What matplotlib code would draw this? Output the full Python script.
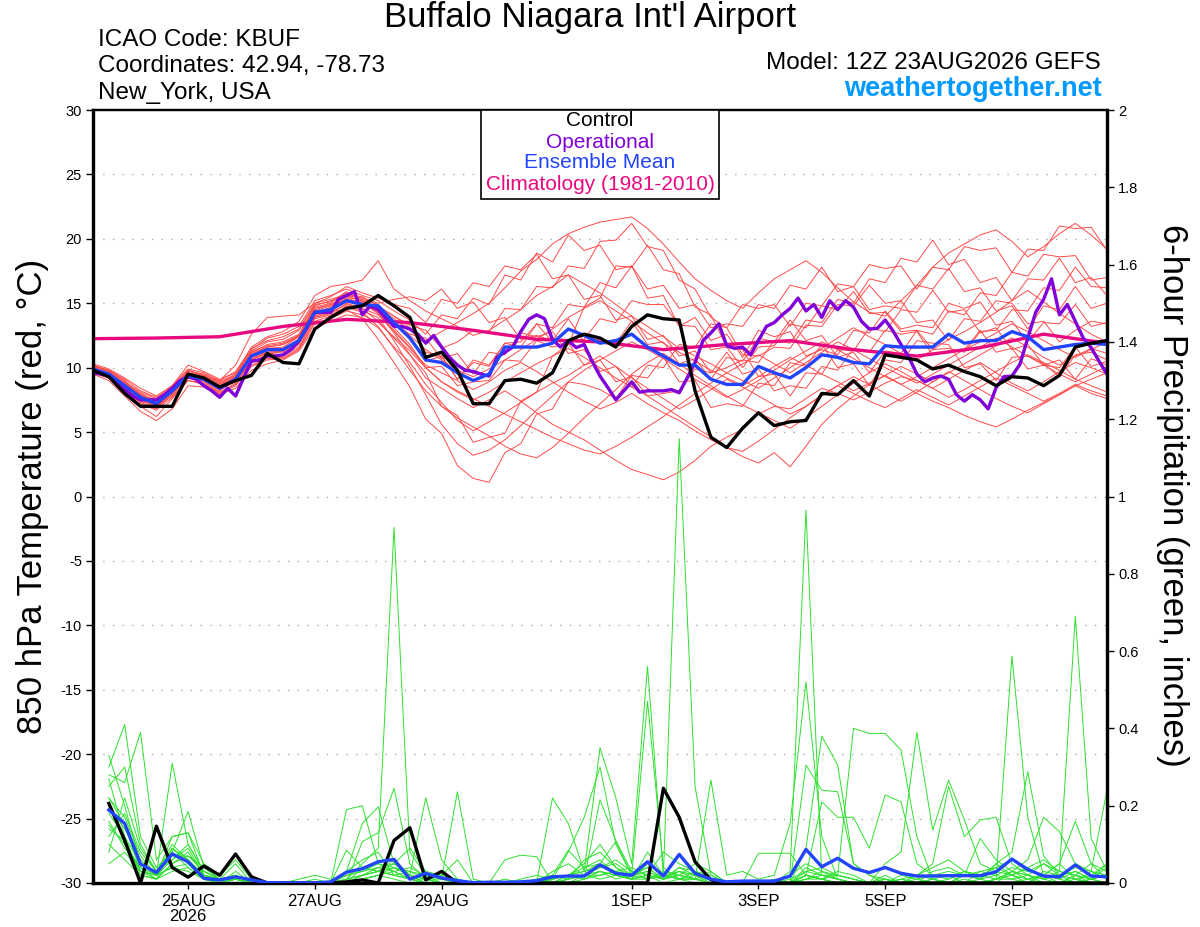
import matplotlib
matplotlib.use('Agg')
import matplotlib.pyplot as plt
from matplotlib.patches import Rectangle
import numpy as np

plt.rcParams['font.family'] = ['Liberation Sans', 'DejaVu Sans']
plt.rcParams['axes.unicode_minus'] = False

# ---------------- data ----------------
# x axis: hours after 12Z 23AUG2026 (6-hourly, operational 3-hourly)
tick_hours = [36, 84, 132, 204, 252, 300, 348]
tick_labels = ['25AUG\n2026', '27AUG', '29AUG', '1SEP', '3SEP', '5SEP', '7SEP']
temp_ticks = [30, 25, 20, 15, 10, 5, 0, -5, -10, -15, -20, -25, -30]
precip_ticks = [2, 1.8, 1.6, 1.4, 1.2, 1, 0.8, 0.6, 0.4, 0.2, 0]
precip_tick_labels = ['2', '1.8', '1.6', '1.4', '1.2', '1', '0.8', '0.6', '0.4', '0.2', '0']

control_t = [9.8, 9.3, 8.0, 7.0, 7.0, 7.0, 9.5, 9.2, 8.5, 9.0,
             9.4, 11.1, 10.4, 10.3, 13.0, 13.9, 14.6, 14.8, 15.6, 14.8,
             13.9, 10.8, 11.2, 9.8, 7.2, 7.2, 9.0, 9.1, 8.8, 9.6,
             12.1, 12.6, 12.3, 11.6, 13.2, 14.1, 13.8, 13.7, 8.2, 4.6,
             3.8, 5.3, 6.5, 5.5, 5.8, 5.9, 8.0, 7.9, 9.0, 7.8,
             11.0, 10.8, 10.6, 9.9, 10.2, 9.7, 9.3, 8.6, 9.3, 9.2,
             8.6, 9.4, 11.6, 11.9, 12.1]

mean_t = [9.9, 9.5, 8.6, 7.7, 7.2, 8.2, 9.4, 9.1, 8.4, 9.1,
          10.9, 11.4, 11.4, 12.1, 14.3, 14.5, 15.2, 14.9, 14.8, 13.5,
          12.3, 10.6, 10.4, 9.6, 9.0, 9.5, 11.6, 11.6, 11.6, 11.9,
          13.0, 12.5, 11.9, 12.1, 12.6, 11.6, 10.9, 10.2, 10.2, 9.1,
          8.7, 8.7, 10.1, 9.6, 9.2, 10.0, 11.0, 10.8, 10.4, 10.3,
          11.7, 11.6, 11.6, 11.6, 12.6, 11.9, 12.1, 12.1, 12.8, 12.4,
          11.4, 11.6, 11.8, 11.9, 11.8]

oper_t = [9.6, 9.5, 9.35, 8.8, 8.3, 7.8, 7.5, 7.5, 7.5, 7.9,
          8.4, 9.0, 9.3, 9.1, 8.6, 8.2, 7.7, 8.4, 7.8, 9.2,
          10.5, 10.6, 10.9, 10.9, 11.0, 11.4, 12.1, 13.1, 14.3, 14.3,
          14.3, 15.3, 15.6, 15.9, 14.1, 14.8, 14.5, 13.8, 13.2, 13.2,
          13.0, 12.6, 11.9, 12.5, 11.6, 10.8, 10.2, 9.8, 9.7, 9.5,
          9.35, 10.8, 11.2, 11.6, 12.8, 13.75, 14.1, 13.8, 12.2, 11.6,
          12.1, 11.55, 11.8, 10.5, 9.35, 8.45, 7.5, 8.2, 8.9, 8.1,
          8.2, 8.2, 8.2, 8.3, 8.05, 9.2, 10.4, 12.1, 12.7, 13.4,
          11.7, 11.5, 11.6, 11.0, 12.1, 13.2, 13.5, 14.1, 14.6, 15.4,
          14.4, 14.9, 13.9, 15.2, 14.5, 15.2, 14.7, 13.6, 13.0, 13.05,
          13.7, 12.85, 11.8, 10.8, 9.5, 8.9, 9.2, 9.35, 9.1, 7.9,
          7.4, 7.9, 7.5, 6.8, 8.45, 9.3, 9.35, 10.25, 12.3, 14.3,
          15.3, 16.9, 14.1, 14.9, 13.6, 12.3, 11.55, 10.5, 9.5]

# climatology, daily values from 12Z 23AUG
clim_t = [12.25, 12.3, 12.4, 13.2, 13.75, 13.5, 12.9, 12.2, 12.0,
          11.4, 11.8, 12.1, 11.4, 10.9, 11.55, 12.6, 11.9]

t01 = [10.2, 9.8, 9.0, 7.8, 6.9, 8.0, 9.8, 9.4, 8.7, 9.3, 11.2, 11.8, 12.0, 12.6, 14.8, 15.2, 15.6, 15.1, 14.6, 13.8,
       12.9, 12.1, 12.8, 13.5, 14.2, 15.0, 16.2, 17.5, 18.4, 19.6, 20.4, 20.9, 21.3, 21.5, 21.7, 20.8, 19.6, 18.2, 16.9, 16.0,
       15.2, 14.6, 15.8, 16.9, 17.6, 18.3, 17.4, 16.2, 15.1, 14.3, 14.0, 15.2, 16.4, 17.8, 18.9, 19.6, 20.3, 20.7, 19.8, 18.6,
       19.4, 20.4, 21.2, 20.3, 19.2]
t02 = [10.0, 9.6, 8.3, 7.0, 6.2, 7.6, 9.0, 8.8, 8.0, 8.8, 10.4, 11.0, 11.3, 12.0, 14.0, 14.4, 14.5, 13.8, 12.2, 10.4,
       8.5, 6.0, 4.9, 2.4, 1.4, 1.1, 3.4, 4.1, 6.4, 6.8, 8.9, 8.7, 8.3, 7.6, 9.4, 9.2, 10.8, 8.9, 9.0, 6.9,
       7.2, 7.0, 8.8, 8.6, 10.4, 10.1, 11.8, 10.0, 10.3, 8.6, 10.6, 10.4, 12.1, 11.9, 11.8, 10.0, 10.3, 9.0, 10.8, 10.9,
       10.3, 9.3, 11.0, 11.2, 10.6]
t03 = [9.8, 9.4, 8.7, 7.5, 7.0, 7.8, 9.2, 9.0, 8.2, 9.0, 10.6, 11.1, 11.0, 11.8, 13.9, 14.2, 15.0, 14.6, 13.6, 12.3,
       11.0, 9.2, 8.4, 7.6, 6.9, 7.5, 8.2, 7.4, 6.5, 5.6, 5.0, 4.4, 3.6, 2.8, 2.1, 1.7, 1.3, 1.9, 2.8, 3.9,
       4.6, 5.2, 6.4, 7.0, 6.8, 7.6, 8.4, 8.0, 7.5, 8.1, 8.8, 9.3, 9.0, 8.4, 9.1, 9.8, 10.4, 9.6, 8.8, 8.2,
       8.9, 9.7, 10.4, 10.0, 9.5]
t04 = [9.9, 9.5, 8.8, 8.0, 7.4, 8.3, 9.6, 9.2, 8.6, 9.2, 11.0, 11.6, 11.8, 12.4, 14.5, 14.9, 15.3, 15.0, 14.3, 12.8,
       11.5, 10.2, 9.6, 9.0, 8.3, 8.9, 9.8, 10.4, 9.7, 8.9, 8.1, 7.4, 6.8, 7.3, 8.0, 7.2, 6.5, 5.9, 5.1, 4.4,
       3.8, 3.1, 2.6, 3.4, 2.3, 3.9, 5.6, 6.8, 7.8, 8.7, 9.4, 10.1, 9.5, 8.9, 9.6, 10.3, 11.0, 11.7, 12.3, 11.6,
       10.8, 10.2, 10.9, 11.5, 11.1]
t05 = [9.7, 9.3, 8.5, 7.6, 7.1, 8.4, 9.7, 9.5, 8.9, 9.5, 11.4, 12.3, 12.6, 13.2, 15.2, 15.6, 16.1, 15.6, 15.2, 14.4,
       13.7, 12.6, 14.1, 13.8, 15.4, 14.9, 17.2, 16.8, 18.9, 18.2, 20.3, 19.1, 19.5, 17.6, 17.9, 15.4, 15.6, 13.2, 13.9, 12.1,
       12.6, 10.8, 12.9, 12.4, 12.8, 10.9, 11.4, 11.0, 12.9, 12.7, 14.4, 13.0, 13.3, 13.1, 15.0, 14.6, 15.1, 13.3, 13.6, 12.0,
       13.5, 13.4, 14.9, 13.2, 13.5]
t06 = [10.3, 9.9, 9.2, 8.4, 7.8, 8.6, 10.2, 9.7, 9.1, 9.6, 11.6, 12.4, 12.8, 13.6, 15.6, 16.3, 16.5, 16.8, 18.3, 16.1,
       15.2, 14.4, 13.8, 13.2, 12.5, 12.9, 13.7, 14.5, 15.6, 16.3, 17.2, 16.5, 15.8, 14.9, 14.0, 13.2, 12.4, 11.5, 10.9, 10.3,
       9.6, 9.0, 8.4, 9.2, 10.0, 10.8, 11.5, 12.3, 13.1, 12.4, 11.8, 11.1, 10.6, 11.4, 12.2, 12.8, 13.5, 14.3, 15.2, 16.0,
       15.1, 14.2, 13.4, 12.6, 12.0]
t07 = [9.6, 9.2, 8.4, 7.3, 6.8, 7.9, 9.5, 9.3, 9.0, 10.2, 12.6, 13.9, 14.0, 14.1, 15.0, 15.3, 15.7, 15.5, 14.8, 14.0,
       13.1, 11.2, 10.9, 9.1, 10.6, 10.2, 11.9, 12.0, 13.4, 12.0, 12.1, 12.2, 13.8, 13.5, 15.2, 14.9, 14.9, 13.3, 13.2, 11.4,
       11.6, 10.0, 11.6, 11.7, 13.4, 13.1, 14.8, 14.5, 15.9, 14.2, 14.3, 12.8, 12.9, 11.4, 11.5, 11.2, 12.8, 12.9, 14.5, 14.4,
       16.2, 16.0, 17.8, 16.3, 16.2]
t08 = [9.5, 9.0, 7.8, 6.6, 5.9, 6.8, 8.6, 8.5, 7.9, 8.4, 9.8, 10.3, 10.6, 11.3, 13.1, 13.6, 14.1, 13.9, 13.1, 11.6,
       10.4, 8.7, 7.3, 5.9, 5.1, 5.8, 6.5, 7.3, 8.1, 8.8, 9.4, 10.2, 10.9, 10.1, 9.2, 8.4, 7.6, 6.8, 7.5, 8.3,
       9.1, 8.5, 7.8, 7.1, 6.4, 7.0, 7.8, 8.6, 9.3, 8.7, 8.0, 7.4, 8.1, 8.9, 9.7, 9.0, 8.3, 7.6, 7.0, 6.5,
       7.2, 7.9, 8.6, 8.0, 7.6]
t09 = [10.1, 9.7, 8.9, 7.9, 7.3, 8.1, 9.3, 9.0, 8.3, 9.0, 10.7, 11.2, 11.3, 12.0, 14.2, 14.6, 15.4, 15.0, 14.2, 12.7,
       11.0, 9.6, 7.0, 6.3, 4.2, 4.6, 4.9, 7.4, 8.1, 10.9, 11.8, 14.7, 15.4, 17.9, 17.8, 19.5, 17.6, 17.3, 14.7, 14.1,
       11.6, 11.4, 9.3, 9.5, 7.8, 9.6, 9.5, 11.4, 11.3, 13.1, 12.8, 14.5, 14.3, 16.0, 14.3, 14.5, 12.7, 13.1, 11.4, 11.8,
       10.2, 10.6, 9.1, 10.7, 10.2]
t10 = [9.8, 9.5, 8.7, 7.7, 7.3, 8.3, 9.5, 9.2, 8.5, 9.2, 11.0, 11.5, 11.6, 12.4, 14.4, 14.8, 15.6, 15.4, 15.0, 15.3,
       15.5, 15.2, 16.1, 14.6, 15.1, 13.5, 13.9, 12.2, 12.5, 12.1, 13.8, 12.0, 12.2, 11.9, 13.6, 11.8, 12.0, 10.3, 10.7, 9.1,
       10.8, 10.5, 12.3, 12.0, 13.7, 12.1, 12.5, 10.8, 11.2, 9.6, 11.3, 11.1, 12.9, 12.6, 14.4, 14.1, 15.8, 15.6, 17.4, 17.1,
       18.8, 18.6, 18.7, 16.8, 17.0]
t11 = [9.9, 9.4, 8.6, 7.6, 7.1, 8.0, 9.2, 9.0, 8.3, 8.9, 10.5, 10.9, 11.0, 11.6, 13.8, 14.1, 14.7, 14.3, 13.2, 11.5,
       9.8, 8.2, 7.0, 6.1, 5.4, 4.7, 3.9, 3.3, 3.0, 3.8, 4.9, 6.1, 7.2, 8.3, 9.5, 10.4, 11.1, 10.3, 9.4, 8.6,
       7.8, 7.1, 6.5, 5.9, 5.3, 6.1, 7.0, 7.9, 8.8, 9.6, 10.3, 9.7, 9.0, 8.4, 7.7, 8.3, 9.0, 9.7, 10.4, 11.0,
       10.4, 9.8, 9.1, 8.6, 8.1]
t12 = [10.0, 9.6, 8.8, 7.9, 7.5, 8.5, 9.8, 9.4, 8.8, 9.4, 11.2, 11.7, 11.9, 12.5, 14.7, 15.0, 15.8, 15.3, 14.9, 13.6,
       12.5, 11.4, 10.6, 9.8, 9.3, 9.9, 10.6, 11.4, 12.2, 13.0, 13.9, 14.6, 15.2, 14.4, 13.6, 12.7, 11.9, 11.2, 10.5, 9.8,
       9.2, 8.6, 9.3, 10.1, 10.8, 10.2, 9.5, 8.9, 8.2, 8.8, 9.4, 8.7, 8.0, 7.4, 6.9, 6.3, 5.8, 5.4, 6.0, 6.7,
       7.3, 7.9, 8.6, 9.1, 9.6]
t13 = [9.7, 9.3, 8.6, 7.7, 7.2, 8.1, 9.3, 9.0, 8.4, 9.1, 10.8, 11.3, 11.4, 12.1, 14.1, 14.5, 15.1, 14.8, 14.4, 13.4,
       12.6, 12.3, 10.7, 11.1, 9.5, 11.2, 11.0, 12.7, 12.4, 12.8, 11.1, 11.4, 9.7, 10.1, 8.5, 10.2, 10.0, 11.8, 11.6, 13.4,
       13.1, 14.9, 14.6, 14.9, 13.2, 15.0, 14.8, 16.5, 16.3, 18.0, 17.7, 17.9, 16.1, 17.8, 17.6, 19.4, 19.1, 19.3, 17.4, 19.2,
       19.1, 21.0, 20.8, 20.9, 19.1]
t14 = [10.2, 9.7, 8.9, 8.1, 7.6, 8.4, 9.4, 8.9, 8.1, 8.7, 10.2, 10.7, 10.8, 11.5, 13.6, 14.0, 14.8, 14.4, 13.9, 12.1,
       10.1, 7.9, 5.6, 4.1, 3.2, 3.6, 4.4, 5.5, 6.7, 7.8, 8.9, 9.8, 10.6, 11.3, 12.0, 11.4, 10.7, 9.9, 9.1, 8.4,
       7.7, 8.3, 9.0, 9.8, 10.6, 11.3, 12.0, 11.4, 10.7, 10.0, 9.3, 8.7, 9.3, 10.0, 10.7, 11.4, 12.0, 12.7, 13.4, 12.8,
       12.1, 11.4, 10.8, 11.4, 12.0]
t15 = [9.8, 9.4, 8.5, 7.4, 6.9, 8.2, 9.6, 9.4, 8.8, 9.4, 11.3, 12.0, 12.2, 12.9, 14.9, 15.1, 15.9, 15.2, 14.6, 14.0,
       13.3, 12.9, 11.5, 12.0, 12.9, 12.8, 14.6, 14.5, 16.3, 16.2, 17.9, 17.7, 19.8, 19.9, 21.2, 19.4, 19.1, 16.8, 16.1, 13.9,
       13.1, 11.0, 10.9, 11.6, 11.5, 13.3, 13.2, 14.9, 14.8, 16.4, 15.0, 15.2, 13.5, 13.7, 12.1, 13.8, 13.6, 15.2, 15.0, 13.4,
       13.6, 12.0, 12.9, 13.6, 13.4]
t16 = [9.6, 9.2, 8.3, 7.2, 6.7, 7.7, 9.0, 8.7, 8.0, 8.6, 10.1, 10.6, 10.7, 11.4, 13.4, 13.8, 14.4, 14.1, 13.5, 12.4,
       11.3, 10.0, 8.9, 8.1, 7.5, 8.1, 8.9, 9.6, 10.3, 10.9, 11.5, 10.8, 10.0, 9.2, 8.5, 7.8, 7.0, 6.2, 5.4, 4.6,
       3.8, 3.5, 4.3, 5.2, 6.1, 7.0, 7.9, 8.6, 8.0, 7.4, 6.9, 7.6, 8.3, 7.7, 7.1, 7.8, 8.5, 9.2, 8.6, 8.0,
       7.4, 8.0, 8.7, 8.2, 7.8]
t17 = [10.1, 9.8, 9.1, 8.2, 7.7, 8.6, 9.9, 9.6, 9.0, 9.7, 11.5, 12.1, 12.4, 13.0, 15.0, 15.5, 16.3, 15.8, 15.4, 14.9,
       14.6, 13.5, 15.3, 15.0, 16.6, 16.3, 17.9, 17.6, 18.8, 16.9, 17.2, 15.3, 15.6, 13.7, 14.0, 12.2, 12.5, 10.9, 11.3, 9.6,
       10.0, 10.6, 10.4, 12.1, 11.9, 13.7, 13.5, 15.3, 15.0, 16.9, 16.6, 18.5, 18.2, 19.9, 18.0, 18.4, 16.6, 17.0, 15.2, 16.9,
       16.8, 18.5, 16.6, 17.0, 15.6]
t18 = [9.9, 9.5, 8.6, 7.6, 7.0, 8.1, 9.4, 9.1, 8.5, 9.1, 10.9, 11.4, 11.5, 12.2, 14.2, 14.7, 15.3, 15.0, 14.6, 13.1,
       11.8, 10.0, 10.1, 8.6, 8.9, 9.0, 10.6, 10.5, 12.1, 11.6, 11.9, 10.2, 10.6, 8.9, 9.3, 7.8, 8.0, 8.2, 9.9, 9.6,
       11.2, 9.5, 9.9, 8.2, 8.6, 8.4, 10.1, 9.8, 11.5, 11.2, 12.9, 12.6, 12.8, 11.0, 11.3, 11.4, 12.9, 11.2, 11.5, 9.9,
       10.2, 10.0, 11.6, 10.1, 10.5]
t19 = [10.0, 9.6, 8.7, 7.8, 7.2, 8.0, 9.3, 9.1, 8.4, 9.0, 10.6, 11.2, 11.2, 11.9, 13.9, 14.3, 14.9, 14.6, 14.1, 12.9,
       11.6, 10.0, 8.9, 8.2, 7.6, 7.0, 6.4, 5.8, 5.2, 4.6, 4.1, 3.6, 3.3, 3.9, 4.6, 5.4, 6.2, 7.1, 8.0, 8.8,
       9.6, 10.3, 11.0, 10.3, 9.6, 10.4, 11.2, 12.0, 11.4, 10.7, 10.0, 9.4, 8.8, 9.5, 10.2, 10.9, 11.6, 12.3, 11.6, 10.9,
       10.2, 9.5, 8.9, 9.5, 10.1]
t20 = [9.7, 9.4, 8.6, 7.8, 7.3, 8.2, 9.5, 9.2, 8.6, 9.3, 11.1, 11.6, 11.8, 12.5, 14.6, 14.9, 15.5, 15.2, 14.7, 13.6,
       12.4, 10.5, 10.9, 9.1, 10.4, 10.1, 11.9, 11.6, 13.4, 13.1, 14.9, 14.7, 16.6, 16.2, 17.9, 16.1, 16.4, 14.6, 14.9, 13.1,
       13.4, 13.2, 14.9, 14.6, 16.4, 16.1, 17.8, 15.9, 16.3, 14.5, 14.8, 14.6, 16.4, 16.1, 17.7, 15.9, 16.2, 14.4, 14.8, 13.0,
       14.8, 14.5, 16.3, 14.6, 15.0]

# 6-hour precipitation (inches), periods ending 18Z 23AUG ... 12Z 8SEP
control_p = [.206, .11, 0, .147, .04, .015, .044, .02,
             .075, .016, 0, 0, 0, 0, 0, .003,
             .008, 0, .11, .143, .008, .03, 0, 0,
             0, 0, 0, 0, 0, 0, 0, 0,
             0, 0, 0, .245, .17, .055, .008, 0,
             0, 0, 0, 0, 0, 0, 0, 0,
             0, 0, 0, 0, 0, 0, 0, 0,
             0, 0, 0, 0, 0, 0, 0, 0]
mean_p = [.189, .154, .049, .027, .075, .055, .012, .008,
          .016, .008, .001, 0, 0, 0, .003, .028,
          .037, .055, .061, .01, .025, .013, .006, .001,
          .002, .002, .003, .006, .016, .018, .018, .047,
          .025, .02, .055, .018, .074, .025, .01, .003,
          .005, .005, .005, .018, .087, .042, .064, .038,
          .027, .04, .025, .018, .018, .019, .019, .019,
          .029, .062, .035, .018, .016, .047, .018, .016]

p01 = [.33, .20, .05, .02, .31, .10, .03, .01, .02, 0, 0, 0, 0, 0, 0, .01,
       .05, .09, .92, .08, .02, 0, 0, 0, 0, 0, 0, 0, .01, .02, .05, .10,
       .04, .01, .02, 0, .01, 0, 0, 0, 0, 0, 0, .02, .05, .03, .01, 0,
       0, 0, .01, 0, 0, 0, .02, .01, 0, .03, .01, 0, 0, .02, 0, 0]
p02 = [.30, .41, .12, .04, .08, .185, .04, .01, .01, 0, 0, 0, 0, 0, 0, .19,
       .20, .05, .03, .01, 0, 0, 0, 0, 0, .01, 0, 0, .22, .154, .03, .35,
       .22, .05, .56, .02, .01, .03, .01, 0, 0, 0, 0, 0, .02, .01, 0, 0,
       0, .01, 0, 0, 0, 0, 0, 0, .01, .02, 0, .02, .01, 0, .03, .01]
p03 = [.28, .26, .39, .06, .12, .13, .05, .02, .06, .01, 0, 0, 0, 0, 0, .03,
       .154, .197, .05, .02, .22, .06, .01, 0, 0, 0, .01, .02, .01, .08, .17, .30,
       .10, .02, .47, .04, .01, .01, .266, .02, .03, .01, .02, .154, .52, .12, .01, 0,
       0, 0, 0, .02, .01, 0, 0, 0, .01, .587, .17, .02, 0, 0, .01, .05]
p04 = [.25, .30, .10, .03, .07, .07, .04, .01, .05, 0, 0, 0, .01, .02, .01, 0,
       .107, .13, .245, .05, .01, .02, .06, 0, 0, .06, .072, .068, 0, 0, .01, .215,
       .11, .03, .01, .02, 1.15, .25, .02, 0, 0, 0, 0, 0, .305, .24, .236, .05,
       .02, .01, 0, 0, 0, 0, .01, 0, 0, 0, .01, .02, .01, .03, .01, .02]
p05 = [.22, .15, .03, .02, .12, .13, .02, 0, .03, 0, 0, 0, 0, .01, 0, .085,
       .04, .03, .06, .02, .01, .01, .236, .01, 0, 0, 0, .01, .02, .085, .04, .05,
       .107, .02, .04, .01, .02, .05, .03, 0, 0, 0, 0, .01, .03, .02, .01, 0,
       0, .01, 0, 0, 0, 0, 0, .01, .02, .01, 0, .03, .02, 0, .01, 0]
p06 = [.18, .12, .02, .01, .05, .07, .03, .01, .02, 0, 0, 0, 0, 0, 0, .02,
       .03, .04, .05, .09, .03, .02, .01, 0, 0, 0, 0, 0, .01, .02, .03, .04,
       .05, .02, .03, .01, .04, .02, .01, 0, 0, .077, .077, .077, .02, .01, 0, 0,
       0, .02, 0, 0, .01, .02, 0, .03, .04, .02, .01, .02, .05, .01, 0, 0]
p07 = [.15, .10, .04, .02, .04, .05, .01, 0, .01, 0, 0, 0, 0, 0, 0, 0,
       .02, .03, .04, .02, 0, 0, 0, 0, 0, 0, 0, 0, 0, .01, .02, .03,
       .02, .01, .05, .02, .03, .01, .01, 0, 0, 0, 0, .03, .965, .02, .01, 0,
       0, 0, 0, 0, 0, 0, 0, 0, .01, .01, .02, 0, 0, .01, 0, 0]
p08 = [.12, .18, .08, .03, .10, .06, .02, .01, .02, 0, 0, 0, 0, 0, 0, .03,
       .06, .08, .02, .01, .01, 0, 0, 0, 0, 0, 0, 0, .03, .05, .02, .04,
       .06, .03, .02, .08, .05, .03, .01, 0, 0, 0, 0, 0, .09, .38, .305, .05,
       .02, 0, .01, 0, .03, .04, .02, .01, .05, .02, .04, .06, .03, .02, .05, .03]
p09 = [.10, .06, .02, .01, .03, .04, .01, 0, .01, 0, 0, 0, 0, 0, 0, .01,
       .02, .04, .03, .01, 0, 0, 0, 0, 0, 0, 0, 0, 0, .02, .03, .05,
       .03, .04, .02, .01, .03, .02, .01, 0, 0, 0, 0, 0, .02, .21, .17, .17,
       .09, .228, .21, .05, .02, .01, .03, .02, .04, .06, .03, .05, .02, .04, .03, .02]
p10 = [.08, .22, .09, .03, .06, .09, .02, .01, .01, 0, 0, 0, 0, 0, 0, .02,
       .03, .05, .04, .02, 0, 0, 0, 0, 0, 0, 0, 0, .01, .02, .04, .06,
       .02, .01, .08, .02, .01, .02, .01, 0, 0, 0, .01, 0, .04, .02, .02, .40,
       .387, .387, .344, .12, .01, 0, 0, 0, .01, .03, .02, .01, 0, .02, .01, 0]
p11 = [.20, .14, .06, .02, .09, .05, .02, 0, .01, 0, 0, 0, 0, 0, 0, 0,
       .01, .02, .03, .04, .02, .01, 0, 0, 0, 0, 0, 0, .02, .01, .06, .08,
       .04, .02, .03, .01, .02, .01, 0, 0, 0, 0, 0, 0, .03, .04, .02, .01,
       0, .05, .08, .39, .137, .266, .163, .05, .03, .02, .04, .01, .02, .03, .01, .02]
p12 = [.05, .08, .03, .02, .04, .03, .01, 0, 0, 0, 0, 0, 0, 0, 0, 0,
       .01, .02, .01, 0, 0, 0, 0, 0, 0, 0, 0, 0, 0, .01, .02, .03,
       .01, .02, .01, .03, .02, .01, .03, 0, 0, 0, 0, 0, .01, .02, .01, 0,
       0, 0, .01, .02, .05, .25, .12, .163, .17, .05, .02, .01, .03, .02, .01, .04]
p13 = [.27, .12, .05, .02, .08, .04, .01, 0, .02, 0, 0, 0, 0, 0, 0, 0,
       .02, .03, .02, .01, 0, 0, 0, 0, 0, 0, 0, 0, .01, .02, .01, .03,
       .02, .01, .02, .01, .03, .02, 0, 0, 0, 0, 0, 0, .02, .01, .03, .02,
       0, 0, 0, .02, .04, .06, .03, .01, .05, .08, .288, .07, .02, .01, .02, .05]
p14 = [.16, .09, .04, .01, .05, .08, .02, .01, .01, 0, 0, 0, 0, 0, 0, .01,
       .02, .03, .05, .02, .01, 0, 0, 0, 0, 0, 0, 0, 0, .01, .02, .02,
       .03, .01, .02, .01, .04, .03, .02, 0, 0, 0, 0, 0, .02, .01, 0, 0,
       0, 0, 0, .01, .02, .03, .02, .115, .06, .03, .02, .05, .03, .69, .115, .03]
p15 = [.22, .17, .07, .02, .06, .10, .03, .01, .02, 0, 0, 0, 0, 0, 0, 0,
       .04, .03, .02, .03, .01, 0, 0, 0, 0, 0, 0, .01, 0, .02, .01, .02,
       .03, .02, .04, .01, .02, .01, 0, 0, 0, 0, 0, 0, .01, .03, .02, .01,
       0, 0, .02, .01, 0, .01, .03, .02, .01, .03, .06, .17, .133, .05, .03, .24]
p16 = [.14, .11, .03, .01, .09, .06, .02, 0, .01, 0, 0, 0, 0, 0, 0, 0,
       .01, .02, .04, .03, .02, .01, 0, 0, 0, 0, 0, 0, 0, 0, .02, .01,
       .02, .01, .01, .02, .01, .01, 0, 0, 0, 0, 0, 0, .01, .01, .02, .01,
       0, .01, 0, 0, .01, 0, .02, .03, .02, .04, .03, .02, .05, .16, .05, .01]

temp_members = [t01, t02, t03, t04, t05, t06, t07, t08, t09, t10,
                t11, t12, t13, t14, t15, t16, t17, t18, t19, t20]
precip_members = [p01, p02, p03, p04, p05, p06, p07, p08,
                  p09, p10, p11, p12, p13, p14, p15, p16]

for k, m in enumerate(temp_members):
    if len(m) != 65:
        raise ValueError(f"temp member {k+1} has {len(m)}")
for k, m in enumerate(precip_members):
    if len(m) != 64:
        raise ValueError(f"precip member {k+1} has {len(m)}")

hours6 = np.arange(65) * 6
hours3 = np.arange(129) * 3
hours_p = np.arange(1, 65) * 6
hours_clim = np.arange(17) * 24

# ---------------- figure ----------------
W, H = 1200, 927
fig = plt.figure(figsize=(W / 100, H / 100), dpi=100)
L, R, T, B = 93, 1107, 110, 883
ax = fig.add_axes([L / W, 1 - B / H, (R - L) / W, (B - T) / H])
ax2 = ax.twinx()

RED = '#ff4a4a'
GREEN = '#2ee02e'
BLUE = '#2244ff'
PURPLE = '#7f00d8'
MAGENTA = '#e8087f'

for m in temp_members:
    ax.plot(hours6, m, color=RED, lw=0.7, zorder=2)
ax.plot(hours_clim, clim_t, color=MAGENTA, lw=2.4, zorder=4, solid_capstyle='round')
ax.plot(hours3, oper_t, color=PURPLE, lw=2.4, zorder=5)
ax.plot(hours6, mean_t, color=BLUE, lw=2.4, zorder=6)
ax.plot(hours6, control_t, color='black', lw=2.4, zorder=7)

for p in precip_members:
    ax2.plot(hours_p, p, color=GREEN, lw=0.7, zorder=2)
ax2.plot(hours_p, control_p, color='black', lw=2.4, zorder=5)
ax2.plot(hours_p, mean_p, color=BLUE, lw=2.4, zorder=6)

ax.set_xlim(0, 384)
ax.set_ylim(-30, 30)
ax2.set_ylim(0, 2)

ax.set_yticks(temp_ticks)
ax.set_yticklabels([str(v) for v in temp_ticks])
ax.yaxis.grid(True, color='#aaaaaa', linestyle=(0, (1, 6)), lw=1.0)
ax.set_axisbelow(True)
ax.set_xticks(tick_hours)
ax.set_xticklabels(tick_labels, fontsize=12, linespacing=1.0)
ax.tick_params(axis='y', direction='out', length=5, width=1, labelsize=10.5, pad=3)
ax.tick_params(axis='x', direction='out', length=4, width=1, pad=4)

ax2.set_yticks(precip_ticks)
ax2.set_yticklabels(precip_tick_labels)
ax2.tick_params(axis='y', direction='out', length=5, width=1, labelsize=10.5, pad=3)

for a in (ax, ax2):
    a.spines['left'].set_linewidth(2.3)
    a.spines['right'].set_linewidth(2.3)
    a.spines['bottom'].set_linewidth(2.3)
    a.spines['top'].set_linewidth(1.6)

# axis titles
fig.text(33 / W, 1 - 496 / H, '850 hPa Temperature (red, \u00b0C)', rotation=90,
         ha='center', va='center', fontsize=25)
fig.text(1172 / W, 1 - 495 / H, '6-hour Precipitation (green, inches)', rotation=-90,
         ha='center', va='center', fontsize=25)

# header
fig.text(590 / W, 1 - 18 / H, "Buffalo Niagara Int'l Airport", ha='center', va='center', fontsize=25)
fig.text(98 / W, 1 - 40 / H, 'ICAO Code: KBUF', ha='left', va='center', fontsize=17.5)
fig.text(98 / W, 1 - 66 / H, 'Coordinates: 42.94, -78.73', ha='left', va='center', fontsize=17.5)
fig.text(98 / W, 1 - 93 / H, 'New_York, USA', ha='left', va='center', fontsize=17.5)
fig.text(1101 / W, 1 - 63 / H, 'Model: 12Z 23AUG2026 GEFS', ha='right', va='center', fontsize=17.5)
fig.text(1102 / W, 1 - 89 / H, 'weathertogether.net', ha='right', va='center', fontsize=19.5,
         fontweight='bold', color='#0099ff')

# legend box
fig.add_artist(Rectangle((481 / W, 1 - 199 / H), (719 - 481) / W, (199 - 110) / H,
                         transform=fig.transFigure, facecolor='white', edgecolor='black',
                         lw=1.2, zorder=10))
leg_items = [('Control', 'black', 121), ('Operational', PURPLE, 142),
             ('Ensemble Mean', BLUE, 163), ('Climatology (1981-2010)', MAGENTA, 185)]
for txt, col, yy in leg_items:
    fig.text(600 / W, 1 - yy / H, txt, ha='center', va='center', fontsize=15, color=col, zorder=11)

fig.savefig('out.png', dpi=100)
